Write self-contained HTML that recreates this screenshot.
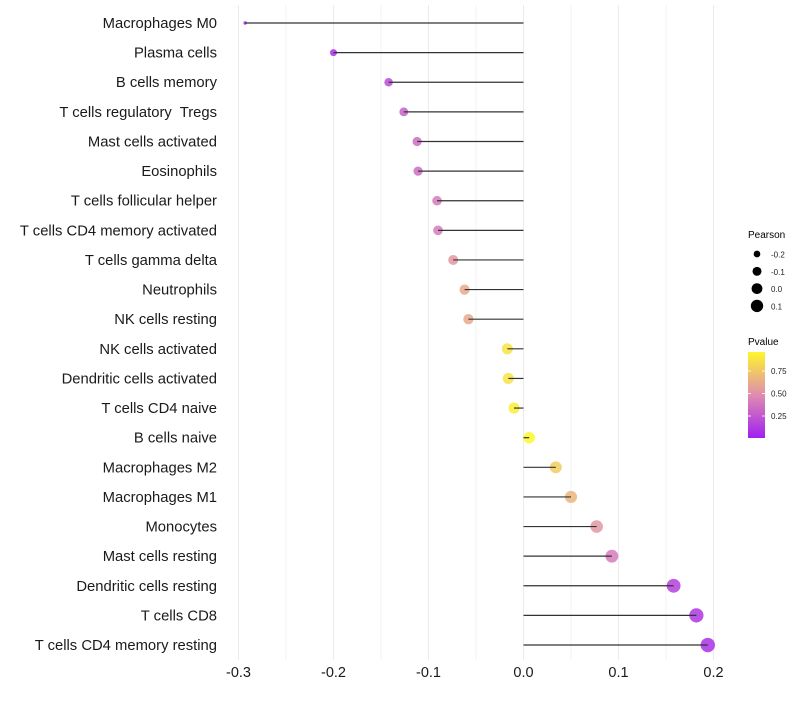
<!DOCTYPE html>
<html><head><meta charset="utf-8"><style>
body{margin:0;background:#fff;font-family:"Liberation Sans",sans-serif}
svg text{font-family:"Liberation Sans",sans-serif;white-space:pre}
</style></head><body>
<svg id="chart" width="800" height="700"></svg>
<script>
const categories=["Macrophages M0","Plasma cells","B cells memory","T cells regulatory  Tregs","Mast cells activated","Eosinophils","T cells follicular helper","T cells CD4 memory activated","T cells gamma delta","Neutrophils","NK cells resting","NK cells activated","Dendritic cells activated","T cells CD4 naive","B cells naive","Macrophages M2","Macrophages M1","Monocytes","Mast cells resting","Dendritic cells resting","T cells CD8","T cells CD4 memory resting"];
const pearson=[-0.293,-0.2,-0.142,-0.126,-0.112,-0.111,-0.091,-0.09,-0.074,-0.062,-0.058,-0.017,-0.016,-0.01,0.006,0.034,0.05,0.077,0.093,0.158,0.182,0.194];
const pvalue=[0.02,0.08,0.2,0.3,0.35,0.35,0.42,0.42,0.55,0.62,0.62,0.88,0.88,0.93,0.97,0.78,0.68,0.55,0.42,0.15,0.1,0.08];
const xTicks=[-0.3,-0.2,-0.1,0.0,0.1,0.2];
const xTickLabels=["-0.3","-0.2","-0.1","0.0","0.1","0.2"];
const sizeLegend=[-0.2,-0.1,0.0,0.1];
const colorLegend=[0.25,0.5,0.75];

const NS="http://www.w3.org/2000/svg";
const svg=document.getElementById('chart');
function el(t,a,p){const e=document.createElementNS(NS,t);for(const k in a)e.setAttribute(k,a[k]);(p||svg).appendChild(e);return e;}
const x=v=>523.5+v*950;
const y=i=>23+i*29.62;
const r=v=>Math.sqrt(Math.max(1,3+100*(v+0.293)));
function lerp(a,b,t){return a.map((c,i)=>Math.round(c+(b[i]-c)*t));}
function col(p){const lo=[160,32,240],mid=[224,140,176],hi=[255,255,32];
 const c=p<0.5?lerp(lo,mid,p/0.5):lerp(mid,hi,(p-0.5)/0.5);return `rgb(${c.join(',')})`;}

for(let v=-0.3;v<=0.2001;v+=0.05){
 const g=el('line',{x1:x(v),x2:x(v),y1:5,y2:660,stroke:Math.abs(Math.round(v*20))%2===0?'#ebebeb':'#f3f3f3','stroke-width':1});
 
 
}
categories.forEach((c,i)=>{
 const t=el('text',{x:217,y:y(i)+5,'text-anchor':'end','font-size':14.8,fill:'#1a1a1a'});t.textContent=c;
 
 
 const v=pearson[i];
 const d=el('circle',{cx:x(v),cy:y(i),r:r(v),fill:col(pvalue[i]),opacity:0.85});
 
 
 const l=el('line',{x1:x(0),x2:x(v),y1:y(i),y2:y(i),stroke:'#333','stroke-width':1.2});
 
 
});
xTicks.forEach((v,i)=>{
 const t=el('text',{x:x(v),y:677,'text-anchor':'middle','font-size':14.5,fill:'#1a1a1a'});t.textContent=xTickLabels[i];
 
 
});
const lt=el('text',{x:748,y:238,'font-size':10,fill:'#000'});lt.textContent='Pearson';


sizeLegend.forEach((v,i)=>{
 const c=el('circle',{cx:757,cy:254+i*17.3,r:r(v)*0.95,fill:'#000'});
 
 
 const t=el('text',{x:771,y:257.5+i*17.3,'font-size':8,fill:'#222'});t.textContent=v.toFixed(1);
 
 
});
const ct=el('text',{x:748,y:345,'font-size':10,fill:'#000'});ct.textContent='Pvalue';


const defs=el('defs',{});
const gr=el('linearGradient',{id:'pg',x1:0,y1:1,x2:0,y2:0},defs);
[[0,0],[0.5,0.5],[1,0.96]].forEach(([o,p])=>el('stop',{offset:o,'stop-color':col(p)},gr));
const bar=el('rect',{x:748,y:352,width:17,height:86,fill:'url(#pg)'});


colorLegend.forEach(p=>{
 const yy=438.5-p*90;
 el('line',{x1:748,x2:751,y1:yy,y2:yy,stroke:'#fff','stroke-width':0.8});
 el('line',{x1:762,x2:765,y1:yy,y2:yy,stroke:'#fff','stroke-width':0.8});
 const t=el('text',{x:771,y:yy+3,'font-size':8,fill:'#222'});t.textContent=p.toFixed(2);
 
 
});
</script>
</body></html>
